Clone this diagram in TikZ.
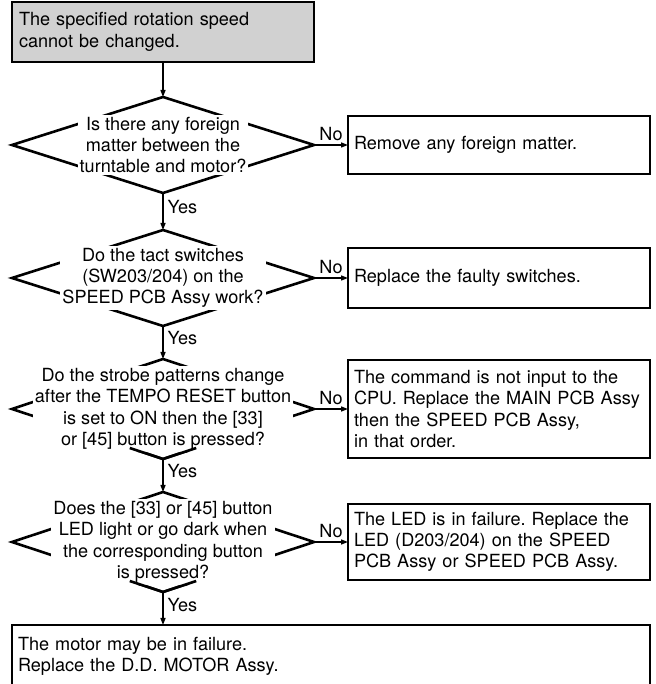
\documentclass[tikz,border=0pt]{standalone}
\usepackage{fontspec}
\setmainfont{TeX Gyre Heros}
\frenchspacing
\usetikzlibrary{arrows.meta,positioning,calc,shapes.geometric}
\tikzset{
  startbox/.style={draw=black, fill=black!18, line width=2.6pt, text width=288pt, minimum height=60pt, inner xsep=7pt, align=left, outer sep=0pt},
  ask/.style={diamond, draw=black, line width=2.6pt, minimum width=302pt, minimum height=96pt, inner sep=0pt, outer sep=0pt},
  asktext/.style={fill=white, align=center, inner sep=2pt},
  fixbox/.style={draw=black, line width=2.6pt, text width=290pt, inner xsep=6pt, align=left, outer sep=0pt},
  arrow/.style={-{Triangle[length=7pt,width=5pt]}, line width=1.3pt},
  nolab/.style={above, inner sep=4pt},
  yeslab/.style={right, inner sep=4pt},
}

\begin{document}
\begin{tikzpicture}[x=1pt,y=1pt,font=\fontsize{18.1}{21.3}\selectfont]
  \useasboundingbox (0,0) rectangle (655,684);
  \clip (0,0) rectangle (655,684);

  \node[startbox] (start) at (163,652) {The specified rotation speed\\cannot be changed.};

  % questions
  \node[ask, below=35pt of start] (q1) {};
  \node[asktext] (t1) at (q1) {Is there any foreign\\matter between the\\turntable and motor?};
  \node[ask, below=37pt of q1] (q2) {};
  \node[asktext] (t2) at (q2) {Do the tact switches\\(SW203/204) on the\\SPEED PCB Assy work?};
  \node[ask, minimum height=100pt, below=33pt of q2] (q3) {};
  \node[asktext] (t3) at (q3) {Do the strobe patterns change\\after the TEMPO RESET button\\is set to ON then the [33]\\or [45] button is pressed?};
  \node[ask, minimum height=100pt, below=33pt of q3] (q4) {};
  \node[asktext] (t4) at (q4) {Does the [33] or [45] button\\LED light or go dark when\\the corresponding button\\is pressed?};
  \draw[line width=2.6pt] ($(q3.south)!.22!(q3.west)$) -- (q3.south) -- ($(q3.south)!.22!(q3.east)$);
  \draw[line width=2.6pt] ($(q4.south)!.22!(q4.west)$) -- (q4.south) -- ($(q4.south)!.22!(q4.east)$);

  % remedies
  \node[fixbox, minimum height=58pt, right=34pt of q1] (r1) {Remove any foreign matter.};
  \node[fixbox, minimum height=60pt, right=34pt of q2] (r2) {Replace the faulty switches.};
  \node[fixbox, minimum height=98pt, right=34pt of q3] (r3) {The command is not input to the\\CPU. Replace the MAIN PCB Assy\\then the SPEED PCB Assy,\\in that order.};
  \node[fixbox, minimum height=76pt, right=34pt of q4] (r4) {The LED is in failure. Replace the\\LED (D203/204) on the SPEED\\PCB Assy or SPEED PCB Assy.};
  \node[fixbox, text width=626pt, minimum height=62pt, anchor=north west] (fin) at ($(q4.south -| start.west)+(0,-33)$) {The motor may be in failure.\\Replace the D.D. MOTOR Assy.};

  \draw[arrow] (start.south) -- (q1.north);
  \draw[arrow] (q1.south) -- node[yeslab, pos=.38] {Yes} (q2.north);
  \draw[arrow] (q2.south) -- node[yeslab, pos=.38] {Yes} (q3.north);
  \draw[arrow] (q3.south) -- node[yeslab, pos=.38] {Yes} (q4.north);
  \draw[arrow] (q4.south) -- node[yeslab, pos=.38] {Yes} (q4.south |- fin.north);
  \draw[arrow] (q1.east) -- node[nolab] {No} (r1.west);
  \draw[arrow] (q2.east) -- node[nolab] {No} (r2.west);
  \draw[arrow] (q3.east) -- node[nolab] {No} (r3.west);
  \draw[arrow] (q4.east) -- node[nolab] {No} (r4.west);
\end{tikzpicture}
\end{document}
